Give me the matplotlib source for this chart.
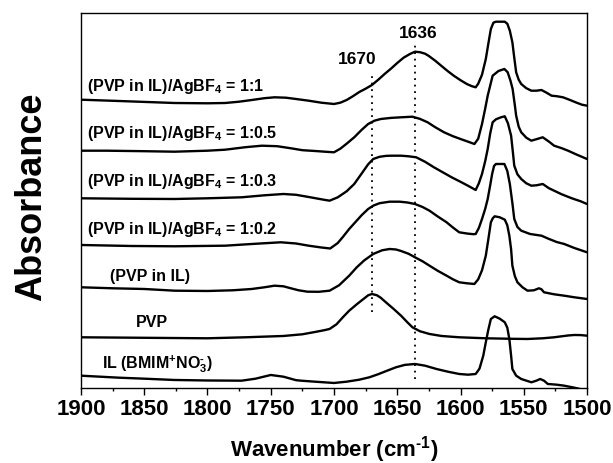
import matplotlib
matplotlib.use("Agg")
import matplotlib.pyplot as plt
import numpy as np

plt.rcParams['font.family'] = ['Liberation Sans', 'DejaVu Sans']
plt.rcParams['font.weight'] = 'bold'
plt.rcParams['mathtext.fontset'] = 'custom'
plt.rcParams['mathtext.rm'] = 'Liberation Sans:bold'
plt.rcParams['mathtext.bf'] = 'Liberation Sans:bold'
plt.rcParams['mathtext.it'] = 'Liberation Sans:bold'
plt.rcParams['mathtext.default'] = 'bf'

# ---- data (wavenumber in cm^-1, absorbance in a.u. relative to each trace's start) ----
labels = [r"(PVP in IL)/AgBF$_{4}$ = 1:1",
          r"(PVP in IL)/AgBF$_{4}$ = 1:0.5",
          r"(PVP in IL)/AgBF$_{4}$ = 1:0.3",
          r"(PVP in IL)/AgBF$_{4}$ = 1:0.2",
          "(PVP in IL)",
          "PVP",
          r"IL (BMIM$^{+}$NO$_{3}^{\text{-}}$)"]

wn_11 = [1900, 1870, 1826, 1800, 1786, 1775, 1765, 1755, 1747, 1738, 1730, 1720, 1710, 1700,
         1695, 1690, 1685, 1680, 1675, 1670, 1665, 1660, 1655, 1650, 1645, 1640, 1636, 1632,
         1628, 1625, 1620, 1615, 1610, 1605, 1600, 1595, 1591, 1588, 1586, 1583, 1580, 1578,
         1576, 1574, 1572, 1565, 1563, 1561, 1559, 1557.5, 1556, 1554, 1552, 1548, 1544, 1540,
         1536, 1532, 1528, 1524, 1519, 1514, 1509, 1504, 1500]
ab_11 = [0, -0.013, -0.033, -0.036, -0.033, -0.02, -0.003, 0.015, 0.024, 0.02, 0.007, -0.01,
         -0.03, -0.043, -0.03, -0.003, 0.035, 0.077, 0.11, 0.147, 0.2, 0.257, 0.31, 0.367, 0.42,
         0.457, 0.48, 0.475, 0.46, 0.437, 0.39, 0.337, 0.285, 0.237, 0.195, 0.157, 0.135, 0.124,
         0.16, 0.25, 0.407, 0.56, 0.707, 0.77, 0.78, 0.78, 0.76, 0.69, 0.574, 0.42, 0.274, 0.2,
         0.157, 0.115, 0.09, 0.09, 0.097, 0.07, 0.04, 0.035, 0.024, 0.0, -0.026, -0.05, -0.06]

wn_105 = [1900, 1880, 1850, 1826, 1800, 1786, 1770, 1757, 1745, 1734, 1725, 1715, 1705, 1700,
          1695, 1690, 1684, 1678, 1673, 1668, 1663, 1655, 1647, 1638, 1632, 1626, 1620, 1613,
          1606, 1600, 1594, 1589, 1586, 1583, 1580.5, 1578.5, 1574.6, 1570, 1565.3, 1562.7,
          1560.5, 1558.8, 1557, 1556, 1554, 1552, 1548, 1544, 1540, 1535, 1530, 1526, 1520,
          1515, 1508, 1500]
ab_105 = [0, 0.0, -0.005, -0.01, 0.0, 0.01, 0.035, 0.05, 0.045, 0.024, 0.005, -0.003, -0.012,
          -0.016, 0.02, 0.07, 0.134, 0.21, 0.267, 0.3, 0.317, 0.328, 0.334, 0.34, 0.318, 0.284,
          0.235, 0.184, 0.145, 0.117, 0.09, 0.067, 0.12, 0.267, 0.42, 0.55, 0.75, 0.797, 0.817,
          0.784, 0.7, 0.617, 0.45, 0.35, 0.24, 0.184, 0.13, 0.1, 0.115, 0.134, 0.09, 0.05, 0.025,
          0.0, -0.04, -0.083]

wn_103 = [1900, 1860, 1826, 1800, 1773, 1755, 1740, 1730, 1720, 1710, 1703.5, 1697, 1690, 1684,
          1678, 1673, 1669, 1664, 1659, 1655, 1647, 1641, 1635, 1628, 1621, 1614, 1607, 1600,
          1594, 1588, 1585.5, 1583, 1580.5, 1578.5, 1576.5, 1574.6, 1572, 1568, 1565, 1562.5,
          1560, 1558.5, 1557.5, 1555, 1552, 1548, 1544, 1540, 1535, 1530, 1526, 1520, 1512,
          1505, 1500]
ab_103 = [0, -0.005, -0.007, 0.0, 0.01, 0.03, 0.043, 0.035, 0.013, -0.01, -0.024, 0.01, 0.07,
          0.143, 0.25, 0.34, 0.393, 0.415, 0.424, 0.426, 0.426, 0.42, 0.41, 0.365, 0.31, 0.26,
          0.21, 0.165, 0.125, 0.083, 0.15, 0.243, 0.37, 0.493, 0.65, 0.76, 0.79, 0.81, 0.82, 0.75,
          0.626, 0.45, 0.326, 0.24, 0.193, 0.15, 0.126, 0.13, 0.143, 0.1, 0.076, 0.04, 0.0,
          -0.03, -0.057]

wn_102 = [1900, 1860, 1826, 1786, 1765, 1742, 1730, 1720, 1710, 1703, 1697, 1693, 1688, 1683,
          1678, 1673, 1669, 1664, 1656, 1648, 1642, 1636, 1630, 1624.5, 1618, 1611, 1606, 1601,
          1595, 1590, 1588, 1585.5, 1583, 1580.5, 1578.5, 1576.5, 1575, 1573.5, 1572, 1565.3,
          1563, 1561, 1559, 1557.5, 1555, 1552, 1545, 1536, 1530, 1524, 1518, 1510, 1500]
ab_102 = [0, -0.01, -0.013, -0.007, 0.01, 0.027, 0.015, -0.007, -0.025, -0.035, 0.02, 0.08,
          0.16, 0.23, 0.3, 0.36, 0.393, 0.418, 0.433, 0.433, 0.425, 0.41, 0.38, 0.343, 0.285,
          0.227, 0.175, 0.127, 0.115, 0.108, 0.11, 0.17, 0.26, 0.36, 0.46, 0.6, 0.71, 0.79, 0.81,
          0.81, 0.74, 0.61, 0.42, 0.26, 0.18, 0.143, 0.11, 0.093, 0.06, 0.03, 0.01, -0.03, -0.073]

wn_pil = [1900, 1875, 1850, 1826, 1800, 1780, 1765, 1755, 1747, 1740, 1735, 1728, 1721, 1712,
          1703.5, 1696, 1688, 1682, 1676, 1669, 1662, 1656, 1651, 1647, 1641, 1636, 1630,
          1624.5, 1618, 1611, 1606, 1601, 1595, 1589, 1586, 1583, 1580, 1578, 1576, 1574.5,
          1573, 1569, 1565, 1563, 1561.4, 1560, 1559, 1557, 1555, 1551, 1547, 1542, 1538, 1536,
          1534, 1526, 1518, 1510, 1500]
ab_pil = [0, -0.01, -0.017, -0.034, -0.037, -0.03, -0.017, 0.0, 0.016, 0.01, -0.007, -0.03,
          -0.044, -0.045, -0.034, 0.02, 0.116, 0.2, 0.27, 0.333, 0.37, 0.383, 0.378, 0.363, 0.335,
          0.3, 0.26, 0.216, 0.165, 0.116, 0.08, 0.05, 0.04, 0.033, 0.08, 0.17, 0.316, 0.48, 0.65,
          0.69, 0.71, 0.7, 0.676, 0.62, 0.516, 0.38, 0.216, 0.11, 0.05, 0.0, -0.034, -0.03, -0.01,
          -0.02, -0.05, -0.07, -0.084, -0.1, -0.117]

wn_pvp = [1900, 1850, 1800, 1770, 1740, 1725, 1715, 1708, 1703.5, 1698, 1693, 1688, 1682, 1676,
          1673, 1670, 1666, 1663, 1659, 1653, 1647, 1642, 1638, 1632, 1624.5, 1615, 1601, 1580,
          1560, 1547, 1535, 1526, 1515, 1510, 1505, 1500]
ab_pvp = [0, -0.005, -0.01, 0.0, 0.013, 0.03, 0.053, 0.07, 0.083, 0.13, 0.2, 0.266, 0.33, 0.39,
          0.42, 0.433, 0.42, 0.395, 0.35, 0.285, 0.216, 0.15, 0.1, 0.06, 0.033, 0.013, 0.0,
          -0.01, -0.015, -0.017, -0.01, 0.0, 0.018, 0.023, 0.022, 0.016]

wn_il = [1900, 1870, 1850, 1826, 1800, 1773, 1762, 1750, 1740, 1730, 1726, 1715, 1700, 1690,
         1680, 1672, 1665, 1658, 1651, 1644, 1636, 1628, 1619, 1610, 1601, 1594, 1588, 1585,
         1582, 1580, 1578, 1576, 1573, 1569, 1565, 1563, 1561.4, 1560, 1559, 1556, 1552, 1544,
         1540, 1537, 1534, 1531, 1524, 1518, 1510, 1500]
ab_il = [0, -0.02, -0.03, -0.043, -0.048, -0.05, -0.03, 0.007, -0.01, -0.045, -0.05, -0.06,
         -0.073, -0.06, -0.04, -0.016, 0.015, 0.05, 0.084, 0.108, 0.117, 0.1, 0.067, 0.04, 0.017,
         0.01, 0.017, 0.07, 0.2, 0.334, 0.46, 0.567, 0.594, 0.57, 0.534, 0.48, 0.367, 0.2, 0.067,
         0.0, -0.033, -0.066, -0.05, -0.033, -0.05, -0.083, -0.09, -0.1, -0.12, -0.15]

series_wn = [wn_11, wn_105, wn_103, wn_102, wn_pil, wn_pvp, wn_il]
series_ab = [ab_11, ab_105, ab_103, ab_102, ab_pil, ab_pvp, ab_il]

# vertical stacking offsets of each trace (a.u.)
offsets = [2.888, 2.378, 1.902, 1.435, 1.012, 0.512, 0.128]
# label anchor: (wavenumber of left edge, baseline height)
label_pos = [(1895.5, 2.985), (1895.5, 2.515), (1895.5, 2.03), (1895.5, 1.555),
             (1877, 1.08), (1856.6, 0.622), (1883.7, 0.212)]

marker_wn = [1670, 1636]
marker_text = ["1670", "1636"]
marker_span = [(0.765, 3.145), (0.095, 3.445)]
marker_label_pos = [(1681.8, 3.295), (1633.8, 3.562)]

xticks_major = [1900, 1850, 1800, 1750, 1700, 1650, 1600, 1550, 1500]

# ---- figure ----
fig = plt.figure(figsize=(6.13, 4.64), dpi=100)
ax = fig.add_axes([0.1321, 0.1606, 0.8255, 0.8103])

for w, a, off in zip(series_wn, series_ab, offsets):
    ax.plot(w, np.array(a) + off, color='black', lw=1.7,
            solid_joinstyle='round', solid_capstyle='round')

for (x, y), lab in zip(label_pos, labels):
    ax.text(x, y, lab, fontsize=11.5, fontweight='bold', ha='left', va='baseline')

for w, (y0, y1), t, (lx, ly) in zip(marker_wn, marker_span, marker_text, marker_label_pos):
    ax.plot([w, w], [y0, y1], color='black', lw=1.3, linestyle=(0, (1, 2.6)))
    ax.text(lx, ly, t, fontsize=12.5, fontweight='bold', ha='center', va='center')

ax.set_xlim(1900, 1500)
ax.set_ylim(0, 3.76)
ax.set_xticks(xticks_major)
ax.set_xticks(np.arange(1900, 1499, -25), minor=True)
ax.set_yticks([])
ax.tick_params(axis='x', which='major', direction='out', length=4.8, width=1.0,
               labelsize=16, pad=2)
ax.tick_params(axis='x', which='minor', direction='out', length=2.4, width=1.0)
for lab in ax.get_xticklabels():
    lab.set_fontweight('bold')
for s in ax.spines.values():
    s.set_linewidth(1.0)

ax.set_xlabel(r"Wavenumber (cm$^{\text{-}1}$)", fontsize=16, fontweight='bold', labelpad=10)
ax.set_ylabel("Absorbance", fontsize=26, fontweight='bold', labelpad=23)
ax.yaxis.label.set_y(0.513)

fig.savefig("out.png", dpi=100)
